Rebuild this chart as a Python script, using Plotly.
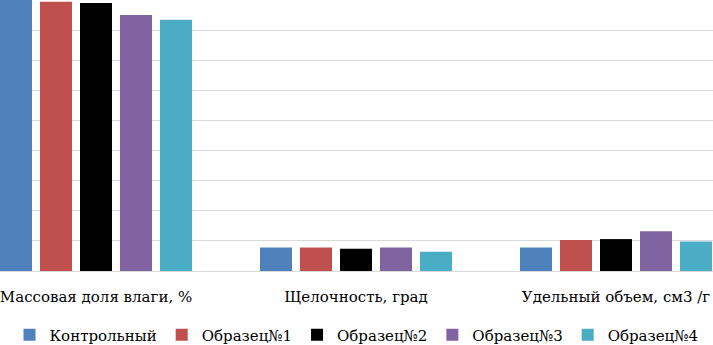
import plotly.graph_objects as go

categories = ["Массовая доля влаги, %", "Щелочность, град", "Удельный объем, см3 /г"]
series_names = ["Контрольный", "Образец№1", "Образец№2", "Образец№3", "Образец№4"]
kontrol = [45.0, 3.9, 3.9]
obr1 = [44.7, 3.9, 5.15]
obr2 = [44.5, 3.7, 5.3]
obr3 = [42.5, 3.9, 6.6]
obr4 = [41.7, 3.2, 4.9]
values = [kontrol, obr1, obr2, obr3, obr4]
colors = ["#4f81bd", "#c0504d", "#000000", "#8064a2", "#4bacc6"]

FONT = "DejaVu Serif"

fig = go.Figure()
for name, vals, col in zip(series_names, values, colors):
    fig.add_trace(go.Bar(name=name, x=categories, y=vals, marker_color=col,
                         marker_line_width=0))

fig.update_layout(
    width=713, height=345,
    margin=dict(l=0, r=0, t=0, b=74, autoexpand=False),
    paper_bgcolor="white", plot_bgcolor="white",
    barmode="group", bargap=0.2308, bargroupgap=0.2,
    font=dict(family=FONT, size=15, color="#000000"),
    legend=dict(orientation="h", x=0.5, xanchor="center", y=-0.236, yanchor="middle",
                font=dict(family=FONT, size=15), itemwidth=30,
                traceorder="normal"),
    showlegend=True,
)
fig.update_xaxes(range=[-96/260, (713-96)/260], showline=True, linecolor="#d9d9d9",
                 linewidth=1, ticks="", ticklabelstandoff=12, showgrid=False,
                 automargin=False, tickfont=dict(family=FONT, size=15))
fig.update_yaxes(range=[0, 45], dtick=5, showgrid=True, gridcolor="#d9d9d9",
                 gridwidth=1, showticklabels=False, zeroline=False, showline=False,
                 automargin=False)

fig.write_html("out.html", config={"displayModeBar": False},
               post_script="document.body.style.margin='0';document.body.style.padding='0';")
